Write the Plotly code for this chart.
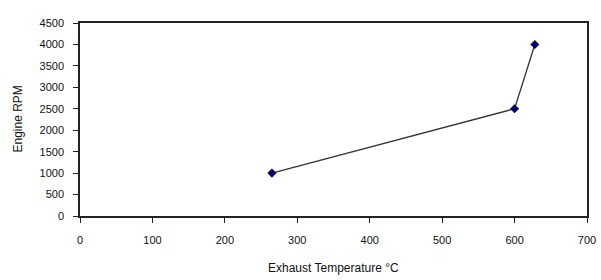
import plotly.graph_objects as go

temps = [265, 600, 628]
rpm = [1000, 2500, 4000]

x_ticks = [0, 100, 200, 300, 400, 500, 600, 700]
y_ticks = [0, 500, 1000, 1500, 2000, 2500, 3000, 3500, 4000, 4500]

fig = go.Figure(go.Scatter(
    x=temps, y=rpm, mode="lines+markers",
    line=dict(color="#333333", width=1.3),
    marker=dict(symbol="diamond", size=7, color="#000066"),
    cliponaxis=False,
))

font = dict(family="Liberation Sans, Arial", size=11, color="#111111")
title_font = dict(family="Liberation Sans, Arial", size=12, color="#111111")
fig.update_layout(
    width=601, height=280,
    margin=dict(l=80, r=14, t=23, b=64, autoexpand=False),
    paper_bgcolor="white", plot_bgcolor="white",
    showlegend=False,
    font=font,
    xaxis=dict(range=[0, 700], tickvals=x_ticks, ticks="outside", ticklen=5,
               tickcolor="#222", linecolor="#222", linewidth=1.5, mirror=True,
               showgrid=False, zeroline=False, automargin=False,
               ticklabelstandoff=8),
    yaxis=dict(range=[0, 4500], tickvals=y_ticks, ticks="outside", ticklen=5,
               tickcolor="#222", linecolor="#222", linewidth=1.5, mirror=True,
               showgrid=False, zeroline=False, automargin=False,
               ticklabelstandoff=7),
    annotations=[
        dict(text="Exhaust Temperature °C", xref="paper", yref="paper",
             x=0.5, y=0, yshift=-52, xanchor="center", yanchor="middle",
             showarrow=False, font=title_font),
        dict(text="Engine RPM", xref="paper", yref="paper",
             x=0, y=0.5, xshift=-63, xanchor="center", yanchor="middle",
             textangle=-90, showarrow=False, font=title_font),
    ],
)
fig.write_html(
    "out.html",
    config={"displayModeBar": False},
    post_script="document.body.style.margin='0';document.body.style.overflow='hidden';",
)
